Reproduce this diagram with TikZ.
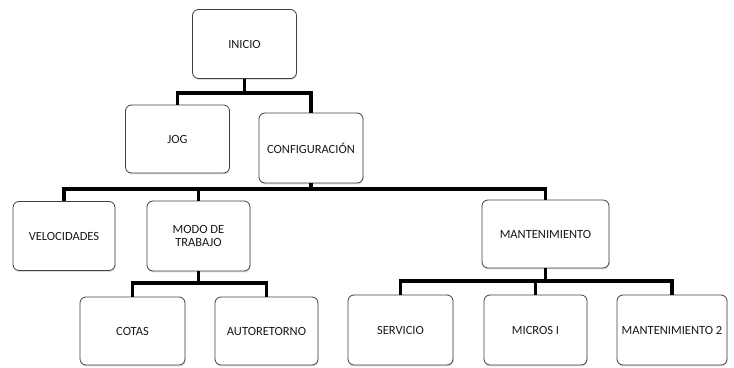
\documentclass[tikz,border=0pt]{standalone}
\usepackage{fontspec}
\setmainfont{Carlito}
\usetikzlibrary{shadows}
\begin{document}
\begin{tikzpicture}[x=1pt,y=-1pt,
  box/.style={draw=black!75, line width=0.8pt, rounded corners=6pt, fill=white,
    minimum width=104pt, minimum height=69pt, align=center, inner sep=2pt,
    font=\fontsize{12.5}{13.5}\selectfont, text=black!90,
    drop shadow={opacity=0.25, shadow xshift=0.6pt, shadow yshift=-1.4pt}},
  conn/.style={line width=3.6pt, black, line join=miter}]
\useasboundingbox (0,0) rectangle (734,367);
% bus heights of the tree levels
\coordinate (b1) at (0,93);
\coordinate (b2) at (0,189);
\coordinate (b3) at (0,283);
\coordinate (b4) at (0,281);
% level 0
\node[box] (inicio) at (244.5,44) {INICIO};
% level 1
\node[box, minimum height=68pt] (jog) at (177.5,139) {JOG};
\node[box, minimum height=70pt] (config) at (311,148) {CONFIGURACIÓN};
% level 2
\node[box, minimum width=102pt] (vel) at (64,236) {VELOCIDADES};
\node[box, minimum width=103pt, minimum height=70pt] (modo) at (198.5,236) {MODO DE\\TRABAJO};
\node[box, minimum width=127pt, minimum height=68pt] (mant) at (545.5,234) {MANTENIMIENTO};
% level 3
\node[box, minimum width=105pt, minimum height=68pt] (cotas) at (132.5,331) {COTAS};
\node[box, minimum width=103pt, minimum height=68pt] (auto) at (266.5,331) {AUTORETORNO};
\node[box, minimum width=105pt, minimum height=70pt] (serv) at (400.5,330) {SERVICIO};
\node[box, minimum width=103pt, minimum height=70pt] (micros) at (535.5,330) {MICROS I};
\node[box, minimum width=110pt, minimum height=70pt] (mant2) at (672,330) {MANTENIMIENTO 2};
% connectors
\draw[conn] (inicio.south) -- (inicio.south |- b1) -| (jog.north);
\draw[conn] (inicio.south) -- (inicio.south |- b1) -| (config.north);
\draw[conn] (config.south) -- (config.south |- b2) -| (vel.north);
\draw[conn] (config.south) -- (config.south |- b2) -| (modo.north);
\draw[conn] (config.south) -- (config.south |- b2) -| (mant.north);
\draw[conn] (modo.south) -- (modo.south |- b3) -| (cotas.north);
\draw[conn] (modo.south) -- (modo.south |- b3) -| (auto.north);
\draw[conn] (mant.south) -- (mant.south |- b4) -| (serv.north);
\draw[conn] (mant.south) -- (mant.south |- b4) -| (micros.north);
\draw[conn] (mant.south) -- (mant.south |- b4) -| (mant2.north);
\end{tikzpicture}
\end{document}
